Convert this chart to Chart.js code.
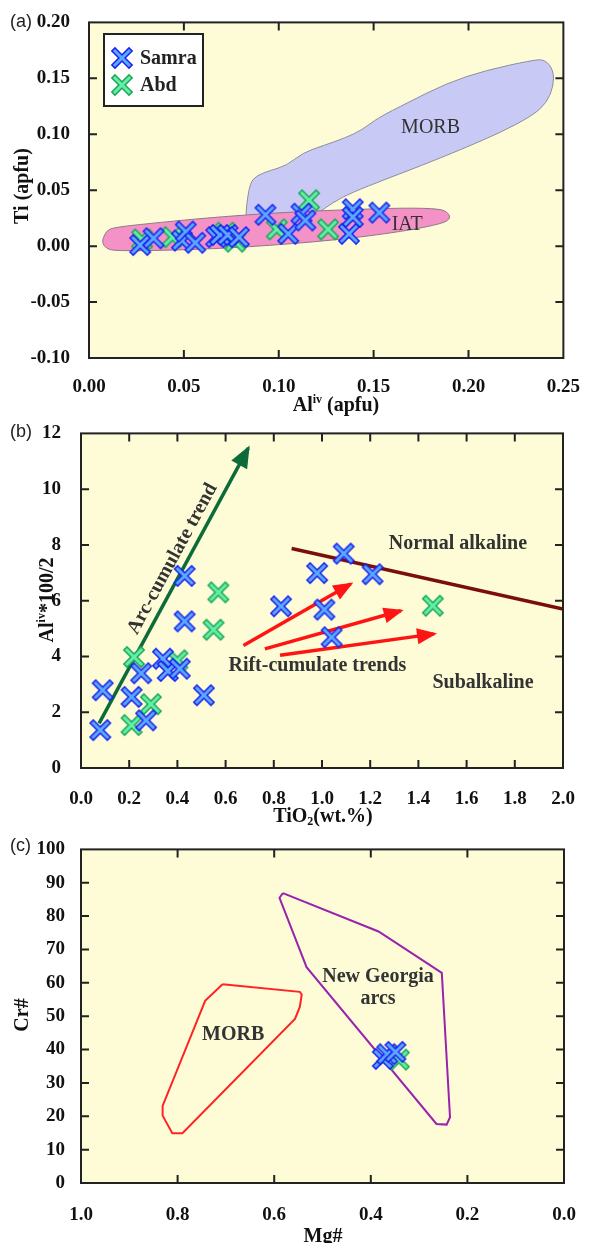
<!DOCTYPE html>
<html>
<head>
<meta charset="utf-8">
<script src="https://cdn.jsdelivr.net/npm/chart.js@4.4.1/dist/chart.umd.min.js"></script>
<style>
html, body { margin: 0; padding: 0; background: #fff; }
#wrap { position: relative; width: 590px; height: 1243px; overflow: hidden; }
.panel { position: absolute; left: 0; width: 590px; }
</style>
</head>
<body>
<div id="wrap">
  <div class="panel" style="top:0px"><canvas id="chartA" width="590" height="420"></canvas></div>
  <div class="panel" style="top:410px"><canvas id="chartB" width="590" height="420"></canvas></div>
  <div class="panel" style="top:830px"><canvas id="chartC" width="590" height="413"></canvas></div>
</div>
<script>
// ---- (a) Ti vs Al(iv) ----
const aSamraAl = [0.027, 0.034, 0.049, 0.051, 0.056, 0.067, 0.069, 0.073, 0.079, 0.093, 0.105, 0.112, 0.114, 0.137, 0.139, 0.139, 0.153];
const aSamraTi = [0.001, 0.007, 0.005, 0.013, 0.003, 0.008, 0.010, 0.010, 0.008, 0.028, 0.011, 0.029, 0.023, 0.011, 0.033, 0.026, 0.030];
const aAbdAl = [0.028, 0.044, 0.072, 0.077, 0.099, 0.116, 0.126];
const aAbdTi = [0.006, 0.008, 0.012, 0.004, 0.015, 0.041, 0.015];
const aXTicks = [0, 0.05, 0.10, 0.15, 0.20, 0.25];
const aYTicks = [-0.10, -0.05, 0, 0.05, 0.10, 0.15, 0.20];
const aMorbField = [[0.0828,0.023],[0.0828,0.0346],[0.0849,0.0568],[0.0885,0.0631],[0.0952,0.0675],[0.104,0.0719],[0.1128,0.0835],[0.1232,0.0897],[0.1351,0.0968],[0.1439,0.1039],[0.1522,0.1146],[0.1677,0.128],[0.1884,0.1456],[0.2091,0.1572],[0.2334,0.1661],[0.2402,0.167],[0.2448,0.1572],[0.2448,0.143],[0.2412,0.128],[0.2334,0.1163],[0.2164,0.1012],[0.1957,0.0861],[0.175,0.0719],[0.1558,0.0595],[0.1387,0.048],[0.1284,0.039],[0.1196,0.028],[0.104,0.023]];
const aIatField = [[0.0072,0.0062],[0.0093,0.0140],[0.0135,0.0168],[0.0316,0.0202],[0.0575,0.0245],[0.0833,0.0280],[0.1092,0.0307],[0.1351,0.0325],[0.1661,0.0342],[0.1853,0.0334],[0.1894,0.0296],[0.1905,0.0249],[0.1868,0.0204],[0.1661,0.0133],[0.1299,0.0053],[0.0833,-0.0009],[0.0471,-0.0036],[0.0135,-0.0044],[0.0088,-0.0018],[0.0072,0.0027]];

// ---- (b) Al(iv)*100/2 vs TiO2 ----
const bSamraTiO2 = [0.08, 0.09, 0.21, 0.25, 0.27, 0.34, 0.36, 0.41, 0.43, 0.43, 0.51, 0.83, 0.98, 1.01, 1.04, 1.09, 1.21];
const bSamraAl = [1.36, 2.79, 2.55, 3.40, 1.71, 3.92, 3.48, 3.56, 5.26, 6.89, 2.61, 5.80, 6.99, 5.68, 4.69, 7.69, 6.95];
const bAbdTiO2 = [0.21, 0.22, 0.29, 0.40, 0.55, 0.57, 1.46];
const bAbdAl = [1.54, 3.98, 2.29, 3.86, 4.96, 6.30, 5.82];
const bXTicks = [0, 0.2, 0.4, 0.6, 0.8, 1.0, 1.2, 1.4, 1.6, 1.8, 2.0];
const bYTicks = [0, 2, 4, 6, 8, 10, 12];
const bArcTrend = [[0.075, 1.6], [0.694, 11.47]];
const bAlkalineLine = [[0.874, 7.87], [2.0, 5.70]];
const bRiftTrend1 = [[0.674, 4.39], [1.119, 6.60]];
const bRiftTrend2 = [[0.763, 4.27], [1.327, 5.64]];
const bRiftTrend3 = [[0.826, 4.04], [1.465, 4.81]];

// ---- (c) Cr# vs Mg# ----
const cSamraMg = [0.375, 0.366, 0.349];
const cSamraCr = [37.2, 38.6, 39.3];
const cAbdMg = [0.342];
const cAbdCr = [37.0];
const cXTicks = [0, 0.2, 0.4, 0.6, 0.8, 1.0];
const cYTicks = [0, 10, 20, 30, 40, 50, 60, 70, 80, 90, 100];
const cMorbField = [[0.707,59.6],[0.547,57.3],[0.543,56.5],[0.547,52.8],[0.557,49.2],[0.790,14.9],[0.811,14.9],[0.831,20.2],[0.831,23.1],[0.743,54.6],[0.707,59.6]];
const cArcField = [[0.582,86.9],[0.589,85.5],[0.533,64.7],[0.264,17.7],[0.243,17.5],[0.236,19.7],[0.253,63.0],[0.384,75.4],[0.582,86.9]];

const serif = "'Liberation Serif', 'Times New Roman', serif";
const sans = "'Liberation Sans', Arial, sans-serif";
const plotBg = '#fdfcd6';
const textGrey = '#333';

function pts(xs, ys) { return xs.map((x, i) => ({x: x, y: ys[i]})); }
function pairs(list) { return list.map(p => ({x: p[0], y: p[1]})); }

// X marker with dark outline and light core
function makeCross(core, edge) {
  const c = document.createElement('canvas');
  c.width = 24; c.height = 24;
  const g = c.getContext('2d');
  const path = () => { g.beginPath(); g.moveTo(5, 5); g.lineTo(19, 19); g.moveTo(19, 5); g.lineTo(5, 19); };
  g.lineCap = 'square';
  path(); g.strokeStyle = edge; g.lineWidth = 6; g.stroke();
  path(); g.strokeStyle = core; g.lineWidth = 3; g.stroke();
  return c;
}
const samraMark = makeCross('#5aa8ff', '#1c22ee');
const abdMark = makeCross('#66eea6', '#1aa858');

function pointSet(label, data, mark) {
  return {label: label, data: data, pointStyle: mark, pointRadius: 10, showLine: false, order: 0};
}
function lineSet(data, color, width, head) {
  return {data: pairs(data), showLine: true, borderColor: color, borderWidth: width, pointRadius: 0, fill: false, tension: 0, order: 1, arrowHead: head};
}

function scales(s) {
  const tickFont = {family: serif, size: 19, weight: 'bold'};
  return {
    x: {
      type: 'linear', min: Math.min(...s.xTicks), max: Math.max(...s.xTicks), reverse: !!s.xReverse,
      grid: {display: false}, border: {display: false},
      ticks: {autoSkip: false, maxRotation: 0, padding: s.xPad, color: '#111', font: tickFont, callback: v => v.toFixed(s.xDigits)},
      afterBuildTicks: sc => { sc.ticks = s.xTicks.map(v => ({value: v})); },
      afterFit: sc => { sc.height = s.xHeight; }
    },
    y: {
      type: 'linear', min: Math.min(...s.yTicks), max: Math.max(...s.yTicks),
      grid: {display: false}, border: {display: false},
      ticks: {autoSkip: false, padding: s.yPad, color: '#111', font: tickFont, callback: v => v.toFixed(s.yDigits)},
      afterBuildTicks: sc => { sc.ticks = s.yTicks.map(v => ({value: v})); },
      afterFit: sc => { sc.width = s.yWidth; }
    }
  };
}

// plot background, frame and inward ticks
const framePlugin = {
  id: 'frame',
  beforeDraw(chart) {
    const {ctx, chartArea: a} = chart;
    ctx.save();
    ctx.fillStyle = plotBg;
    ctx.fillRect(a.left, a.top, a.right - a.left, a.bottom - a.top);
    ctx.restore();
  },
  afterDatasetsDraw(chart) {
    const {ctx, chartArea: a, scales: {x, y}} = chart;
    ctx.save();
    ctx.strokeStyle = '#222';
    ctx.lineWidth = 2;
    ctx.beginPath();
    x.ticks.forEach(t => {
      const px = x.getPixelForValue(t.value);
      if (px <= a.left + 1 || px >= a.right - 1) return;
      ctx.moveTo(px, a.bottom); ctx.lineTo(px, a.bottom - 8);
      ctx.moveTo(px, a.top); ctx.lineTo(px, a.top + 8);
    });
    y.ticks.forEach(t => {
      const py = y.getPixelForValue(t.value);
      if (py <= a.top + 1 || py >= a.bottom - 1) return;
      ctx.moveTo(a.left, py); ctx.lineTo(a.left + 8, py);
      ctx.moveTo(a.right, py); ctx.lineTo(a.right - 8, py);
    });
    ctx.stroke();
    ctx.strokeRect(a.left, a.top, a.right - a.left, a.bottom - a.top);
    ctx.restore();
  }
};

// arrow heads on line datasets that ask for one
const arrowPlugin = {
  id: 'arrows',
  afterDatasetDraw(chart, args) {
    const ds = chart.data.datasets[args.index];
    if (!ds.arrowHead) return;
    const p = args.meta.data;
    const a = p[p.length - 2], b = p[p.length - 1];
    const ang = Math.atan2(b.y - a.y, b.x - a.x);
    const ctx = chart.ctx;
    ctx.save();
    ctx.translate(b.x, b.y);
    ctx.rotate(ang);
    ctx.fillStyle = ds.borderColor;
    ctx.beginPath();
    ctx.moveTo(3, 0);
    ctx.lineTo(3 - ds.arrowHead[0], -ds.arrowHead[1] / 2);
    ctx.lineTo(3 - ds.arrowHead[0], ds.arrowHead[1] / 2);
    ctx.closePath();
    ctx.fill();
    ctx.restore();
  }
};

// filled smooth fields (panel a)
function smoothShape(ctx, chart, list) {
  const p = list.map(v => ({x: chart.scales.x.getPixelForValue(v[0]), y: chart.scales.y.getPixelForValue(v[1])}));
  const n = p.length;
  const mid = (a, b) => ({x: (a.x + b.x) / 2, y: (a.y + b.y) / 2});
  const m = mid(p[n - 1], p[0]);
  ctx.beginPath();
  ctx.moveTo(m.x, m.y);
  for (let i = 0; i < n; i++) {
    const q = mid(p[i], p[(i + 1) % n]);
    ctx.quadraticCurveTo(p[i].x, p[i].y, q.x, q.y);
  }
  ctx.closePath();
}
const fieldPlugin = {
  id: 'fields',
  beforeDatasetsDraw(chart) {
    const ctx = chart.ctx;
    ctx.save();
    ctx.lineWidth = 1;
    smoothShape(ctx, chart, aMorbField);
    ctx.fillStyle = '#c9c9f6'; ctx.fill();
    ctx.strokeStyle = '#8e8e9c'; ctx.stroke();
    smoothShape(ctx, chart, aIatField);
    ctx.fillStyle = '#f491c6'; ctx.fill();
    ctx.strokeStyle = '#8e7a84'; ctx.stroke();
    ctx.restore();
  }
};

// text with sub/superscripts, centred on (cx, cy)
function drawRich(ctx, parts, cx, cy, size, rot) {
  const small = Math.round(size * 0.6);
  ctx.save();
  ctx.translate(cx, cy);
  ctx.rotate(rot || 0);
  ctx.fillStyle = '#111';
  ctx.textAlign = 'left';
  ctx.textBaseline = 'alphabetic';
  const widths = parts.map(p => { ctx.font = 'bold ' + (p[1] ? small : size) + 'px ' + serif; return ctx.measureText(p[0]).width; });
  let x = -widths.reduce((s, w) => s + w, 0) / 2;
  parts.forEach((p, i) => {
    ctx.font = 'bold ' + (p[1] ? small : size) + 'px ' + serif;
    const dy = p[1] === 'sup' ? -size * 0.4 : p[1] === 'sub' ? size * 0.18 : 0;
    ctx.fillText(p[0], x, size * 0.33 + dy);
    x += widths[i];
  });
  ctx.restore();
}

function textPlugin(cfg) {
  return {
    id: 'texts',
    afterDraw(chart) {
      const ctx = chart.ctx;
      const {x, y} = chart.scales;
      ctx.save();
      ctx.font = '18px ' + sans;
      ctx.fillStyle = '#222';
      ctx.textAlign = 'left';
      ctx.textBaseline = 'middle';
      ctx.fillText(cfg.panel, 10, cfg.panelY);
      drawRich(ctx, cfg.xTitle, cfg.xTitlePos[0], cfg.xTitlePos[1], 20, 0);
      drawRich(ctx, cfg.yTitle, cfg.yTitlePos[0], cfg.yTitlePos[1], 20, -Math.PI / 2);
      cfg.labels.forEach(l => {
        ctx.save();
        ctx.translate(x.getPixelForValue(l.x), y.getPixelForValue(l.y));
        if (l.along) {
          const p0 = l.along[0], p1 = l.along[1];
          ctx.rotate(Math.atan2(y.getPixelForValue(p1[1]) - y.getPixelForValue(p0[1]), x.getPixelForValue(p1[0]) - x.getPixelForValue(p0[0])));
        }
        ctx.font = (l.bold ? 'bold ' : '') + '20px ' + serif;
        ctx.fillStyle = textGrey;
        ctx.textAlign = 'center';
        ctx.textBaseline = 'middle';
        ctx.fillText(l.text, 0, 0);
        ctx.restore();
      });
      if (cfg.legend) {
        const L = cfg.legend;
        ctx.fillStyle = '#fff';
        ctx.fillRect(L.x, L.y, L.w, L.h);
        ctx.strokeStyle = '#222';
        ctx.lineWidth = 2;
        ctx.strokeRect(L.x, L.y, L.w, L.h);
        chart.data.datasets.forEach((ds, i) => {
          const cy = L.y + 24 + i * 27;
          ctx.drawImage(ds.pointStyle, L.x + 18 - 12, cy - 12);
          ctx.font = 'bold 20px ' + serif;
          ctx.fillStyle = '#222';
          ctx.textAlign = 'left';
          ctx.textBaseline = 'middle';
          ctx.fillText(ds.label, L.x + 36, cy + 1);
        });
      }
      ctx.restore();
    }
  };
}

function baseOptions(sc, pad) {
  return {
    responsive: false,
    animation: false,
    devicePixelRatio: 1,
    layout: {padding: pad},
    plugins: {legend: {display: false}, tooltip: {enabled: false}},
    scales: scales(sc)
  };
}

// panel (a)
new Chart(document.getElementById('chartA'), {
  type: 'scatter',
  data: {datasets: [
    pointSet('Samra', pts(aSamraAl, aSamraTi), samraMark),
    pointSet('Abd', pts(aAbdAl, aAbdTi), abdMark)
  ]},
  options: baseOptions({xTicks: aXTicks, yTicks: aYTicks, xDigits: 2, yDigits: 2, xPad: 10, yPad: 11, xHeight: 62, yWidth: 89},
    {top: 19, right: 18, left: 0, bottom: 0}),
  plugins: [framePlugin, fieldPlugin, arrowPlugin, textPlugin({
    panel: '(a)', panelY: 22,
    xTitle: [['Al', ''], ['iv', 'sup'], [' (apfu)', '']], xTitlePos: [336, 404],
    yTitle: [['Ti (apfu)', '']], yTitlePos: [21, 186],
    labels: [
      {text: 'MORB', x: 0.180, y: 0.1057},
      {text: 'IAT', x: 0.1677, y: 0.0187}
    ],
    legend: {x: 104, y: 34, w: 99, h: 72}
  })]
});

// panel (b)
new Chart(document.getElementById('chartB'), {
  type: 'scatter',
  data: {datasets: [
    pointSet('Samra', pts(bSamraTiO2, bSamraAl), samraMark),
    pointSet('Abd', pts(bAbdTiO2, bAbdAl), abdMark),
    lineSet(bArcTrend, '#0d6b3a', 3.5, [22, 18]),
    lineSet(bAlkalineLine, '#7a0d0d', 3.5, null),
    lineSet(bRiftTrend1, '#ff1414', 3.5, [20, 16]),
    lineSet(bRiftTrend2, '#ff1414', 3.5, [20, 16]),
    lineSet(bRiftTrend3, '#ff1414', 3.5, [20, 16])
  ]},
  options: baseOptions({xTicks: bXTicks, yTicks: bYTicks, xDigits: 1, yDigits: 0, xPad: 12, yPad: 12, xHeight: 62, yWidth: 81},
    {top: 22, right: 27, left: 0, bottom: 0}),
  plugins: [framePlugin, arrowPlugin, textPlugin({
    panel: '(b)', panelY: 22,
    xTitle: [['TiO', ''], ['2', 'sub'], ['(wt.%)', '']], xTitlePos: [323, 405],
    yTitle: [['Al', ''], ['iv', 'sup'], ['*100/2', '']], yTitlePos: [46, 190],
    labels: [
      {text: 'Arc-cumulate trend', x: 0.380, y: 7.5, bold: true, along: bArcTrend},
      {text: 'Normal alkaline', x: 1.564, y: 8.04, bold: true},
      {text: 'Rift-cumulate trends', x: 0.981, y: 3.68, bold: true},
      {text: 'Subalkaline', x: 1.668, y: 3.04, bold: true}
    ]
  })]
});

// panel (c)
new Chart(document.getElementById('chartC'), {
  type: 'scatter',
  data: {datasets: [
    pointSet('Samra', pts(cSamraMg, cSamraCr), samraMark),
    pointSet('Abd', pts(cAbdMg, cAbdCr), abdMark),
    lineSet(cMorbField, '#ff2424', 2, null),
    lineSet(cArcField, '#9a22ae', 2, null)
  ]},
  options: baseOptions({xTicks: cXTicks, yTicks: cYTicks, xDigits: 1, yDigits: 0, xPad: 13, yPad: 8, xHeight: 60, yWidth: 81, xReverse: true},
    {top: 16, right: 26, left: 0, bottom: 0}),
  plugins: [framePlugin, arrowPlugin, textPlugin({
    panel: '(c)', panelY: 16,
    xTitle: [['Mg#', '']], xTitlePos: [323, 405],
    yTitle: [['Cr#', '']], yTitlePos: [21, 185],
    labels: [
      {text: 'MORB', x: 0.685, y: 44.5, bold: true},
      {text: 'New Georgia', x: 0.385, y: 61.7, bold: true},
      {text: 'arcs', x: 0.385, y: 55.3, bold: true}
    ]
  })]
});
</script>
</body>
</html>
